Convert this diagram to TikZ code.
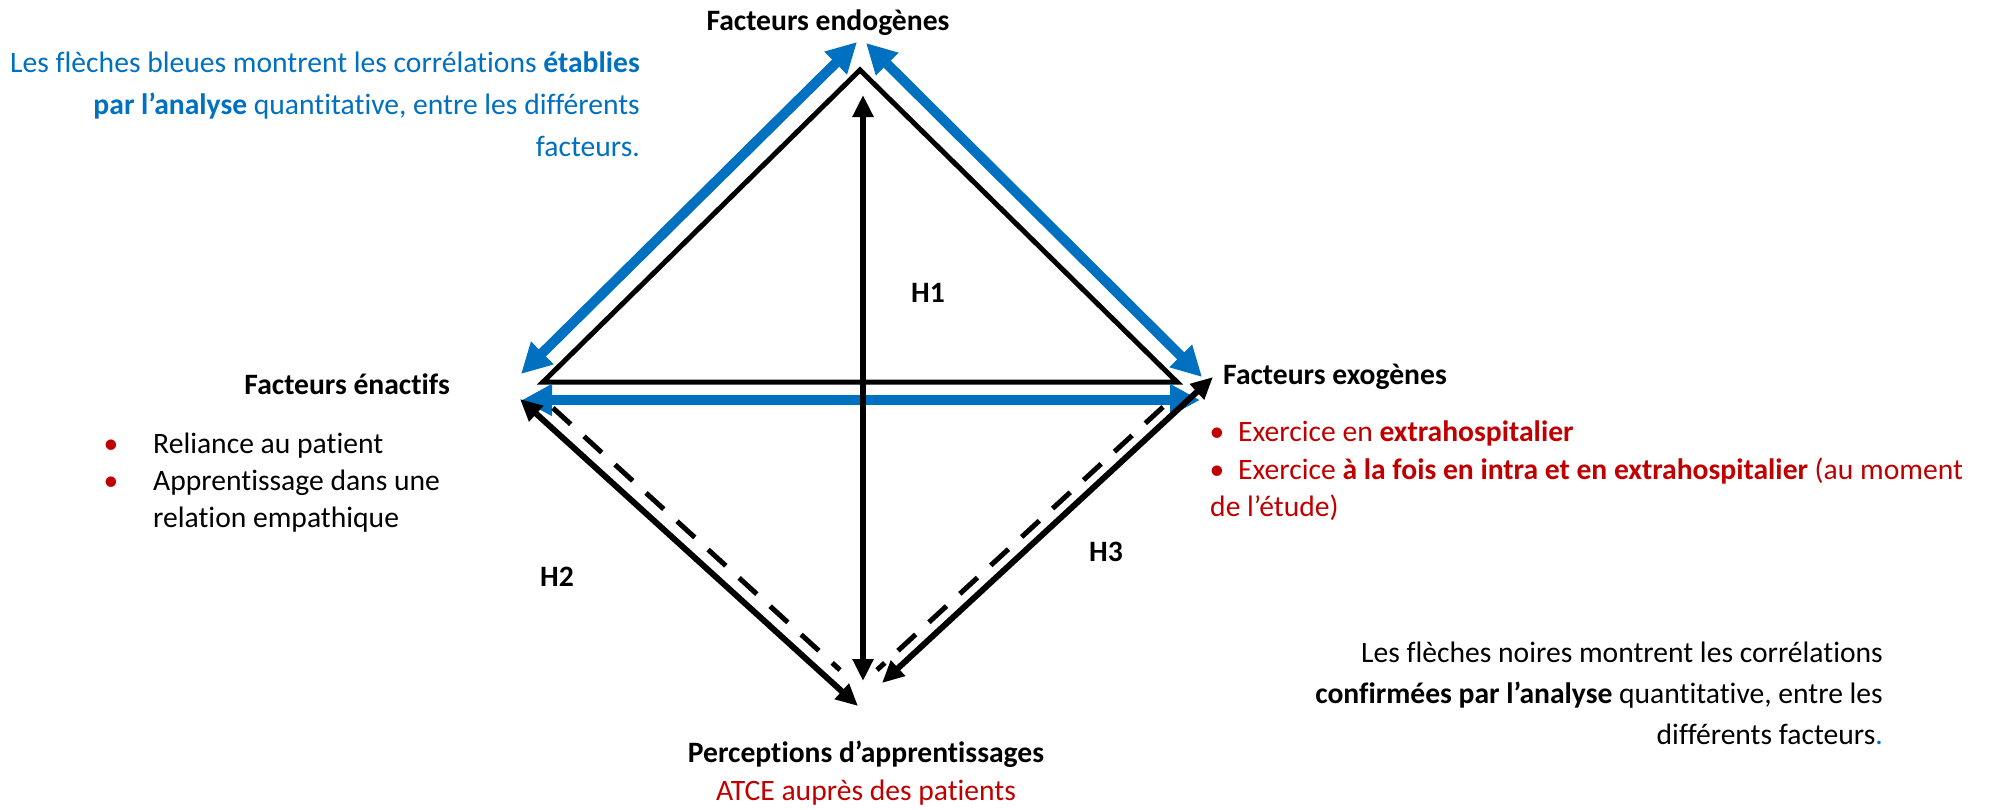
\documentclass[tikz,border=0pt]{standalone}
\usepackage{fontspec}
\setmainfont{Carlito}[Ligatures=NoCommon]
\usetikzlibrary{arrows.meta}
\definecolor{oblue}{HTML}{0070C0}
\definecolor{ored}{HTML}{C00000}
\begin{document}
\begin{tikzpicture}[x=1pt,y=-1pt,
  txt/.style={inner sep=0pt, font=\fontsize{29.6}{40}\selectfont},
  lbl/.style={inner sep=0pt, font=\fontsize{29.6}{40}\selectfont\bfseries},
  tri/.style={black, line width=5pt, line join=miter},
  bluearr/.style={oblue, line width=10pt, {Triangle[length=30pt,width=30pt]}-{Triangle[length=30pt,width=30pt]}},
  blkarr/.style={black, line width=6pt, {Triangle[length=22pt,width=20pt]}-{Triangle[length=22pt,width=20pt]}},
  dashline/.style={black, line width=5pt, dash pattern=on 24pt off 18pt},
]
\useasboundingbox (0,0) rectangle (1998,809);

% triangle
\coordinate (tA) at (543,382);
\coordinate (tB) at (860,70);
\coordinate (tC) at (1177,382);
\draw[tri] (tA) -- (tB) -- (tC) -- cycle;

% blue arrows
\coordinate (b1L) at (521,374);
\coordinate (b1T) at (857,42);
\coordinate (b2T) at (866,43);
\coordinate (b2R) at (1202,377);
\coordinate (b3L) at (522,400);
\coordinate (b3R) at (1200,400);
\draw[bluearr] (b1L) -- (b1T);
\draw[bluearr] (b2T) -- (b2R);
\draw[bluearr] (b3L) -- (b3R);

% black arrows
\coordinate (vT) at (863,95);
\coordinate (vB) at (863,681);
\coordinate (lT) at (520,399);
\coordinate (lB) at (858,706);
\coordinate (rT) at (1213,377);
\coordinate (rB) at (882,683);
\draw[blkarr] (vT) -- (vB);
\draw[blkarr] (lT) -- (lB);
\draw[blkarr] (rT) -- (rB);

% dashed
\coordinate (dlT) at (553,408);
\coordinate (dlB) at (840,670);
\coordinate (drT) at (1163,407);
\coordinate (drB) at (877,670);
\draw[dashline] (dlT) -- (dlB);
\draw[dashline] (drT) -- (drB);

% labels
\node[lbl, anchor=base] (endo) at (828,30) {Facteurs endogènes};
\node[lbl, anchor=base east] (enact) at (450,394) {Facteurs énactifs};
\node[lbl, anchor=base west] (exo) at (1223,384) {Facteurs exogènes};
\node[lbl, anchor=base] (perc) at (866,762) {Perceptions d’apprentissages};
\node[txt, ored, anchor=base] (atce) at (866,800) {ATCE auprès des patients};
\node[lbl] (h1) at (928,293) {H1};
\node[lbl] (h2) at (557,577) {H2};
\node[lbl] (h3) at (1106,552) {H3};

% blue note
\node[txt, oblue, anchor=base east] (bn1) at (640,72) {Les flèches bleues montrent les corrélations \textbf{établies}};
\node[txt, oblue, anchor=base east] (bn2) at (640,114) {\textbf{par l’analyse} quantitative, entre les différents};
\node[txt, oblue, anchor=base east] (bn3) at (640,156) {facteurs.};

% left bullets
\node[txt, ored, anchor=base] (lb1) at (111,453) {•};
\node[txt, anchor=base west] (lt1) at (153,453) {Reliance au patient};
\node[txt, ored, anchor=base] (lb2) at (111,490) {•};
\node[txt, anchor=base west] (lt2) at (153,490) {Apprentissage dans une};
\node[txt, anchor=base west] (lt3) at (153,527) {relation empathique};

% right bullets
\node[txt, ored, anchor=base] (rb1) at (1217,441) {•};
\node[txt, ored, anchor=base west] (rt1) at (1238,441) {Exercice en \textbf{extrahospitalier}};
\node[txt, ored, anchor=base] (rb2) at (1217,479) {•};
\node[txt, ored, anchor=base west] (rt2) at (1238,479) {Exercice \textbf{à la fois en intra et en extrahospitalier} (au moment};
\node[txt, ored, anchor=base west] (rt3) at (1210,516) {de l’étude)};

% black note
\node[txt, anchor=base east] (kn1) at (1883,662) {Les flèches noires montrent les corrélations};
\node[txt, anchor=base east] (kn2) at (1883,703) {\textbf{confirmées par l’analyse} quantitative, entre les};
\node[txt, anchor=base east] (kn3) at (1883,744) {différents facteurs\textcolor{oblue}{.}};
\end{tikzpicture}
\end{document}
